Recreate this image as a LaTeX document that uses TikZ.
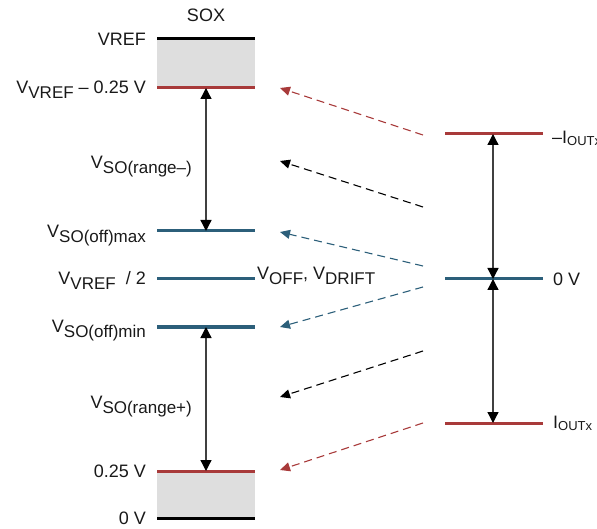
\documentclass[tikz,border=0pt]{standalone}
\usepackage{fontspec}
\setmainfont{Liberation Sans}
\usetikzlibrary{arrows.meta}
\definecolor{lvlred}{RGB}{168,58,58}
\definecolor{lvlblue}{RGB}{44,95,122}
\newcommand{\vsub}[1]{\raisebox{-5pt}{\fontsize{17}{17}\selectfont #1}}
\newcommand{\isub}[1]{\raisebox{-2pt}{\fontsize{13}{13}\selectfont #1}}
\tikzset{
  lvl/.style={line width=3pt},
  span/.style={line width=1.3pt, draw=black!75,
    {Triangle[length=11pt,width=11pt,black]}-{Triangle[length=11pt,width=11pt,black]}},
  hint/.style={line width=1.1pt, dash pattern=on 8pt off 5pt,
    -{Triangle[length=10pt,width=9pt]}},
  lbl/.style={font=\fontsize{18}{21}\selectfont, inner sep=0pt, text=black!90}
}
\begin{document}
\begin{tikzpicture}[x=1pt,y=-1pt]
\useasboundingbox (0,0) rectangle (597,529);

\foreach \n/\y in {vref/39, top/88, omax/231, mid/279, omin/327, bot/471, zero/518} {
  \coordinate (\n-a) at (157,\y);
  \coordinate (\n-b) at (255,\y);
  \coordinate (\n) at (206,\y);
}
\foreach \n/\y in {neg/134, nul/279, pos/423} {
  \coordinate (\n-a) at (445,\y);
  \coordinate (\n-b) at (543,\y);
  \coordinate (\n) at (493,\y);
}

\fill [black!13] (vref-a) rectangle (top-b);
\fill [black!13] (bot-a) rectangle (zero-b);

\draw [lvl] (vref-a) -- (vref-b);
\draw [lvl,lvlred] (top-a) -- (top-b);
\draw [lvl,lvlblue] (omax-a) -- (omax-b);
\draw [lvl,lvlblue] (mid-a) -- (mid-b);
\draw [lvl,lvlblue] (omin-a) -- (omin-b);
\draw [lvl,lvlred] (bot-a) -- (bot-b);
\draw [lvl] (zero-a) -- (zero-b);
\draw [lvl,lvlred] (neg-a) -- (neg-b);
\draw [lvl,lvlblue] (nul-a) -- (nul-b);
\draw [lvl,lvlred] (pos-a) -- (pos-b);

\draw [span] (top) -- (omax);
\draw [span] (omin) -- (bot);
\draw [span] (neg) -- (nul);
\draw [span] (nul) -- (pos);

\coordinate (s1) at (423,135); \coordinate (t1) at (280,88);
\coordinate (s2) at (423,207); \coordinate (t2) at (280,161);
\coordinate (s3) at (423,266); \coordinate (t3) at (280,232);
\coordinate (s4) at (423,287); \coordinate (t4) at (280,327);
\coordinate (s5) at (423,351); \coordinate (t5) at (280,397);
\coordinate (s6) at (423,423); \coordinate (t6) at (280,470);
\draw [hint,lvlred] (s1) -- (t1);
\draw [hint,black] (s2) -- (t2);
\draw [hint,lvlblue] (s3) -- (t3);
\draw [hint,lvlblue] (s4) -- (t4);
\draw [hint,black] (s5) -- (t5);
\draw [hint,lvlred] (s6) -- (t6);

\node [lbl] (sox) at (206,15) {SOX};
\node [lbl,anchor=east] (l-vref) at (146,39) {VREF};
\node [lbl,anchor=east] (l-top) at (146,90) {V\vsub{VREF} -- 0.25 V};
\node [lbl,anchor=east] (l-rneg) at (192,167) {V\vsub{SO(range--)}};
\node [lbl,anchor=east] (l-omax) at (146,236) {V\vsub{SO(off)max}};
\node [lbl,anchor=east] (l-mid) at (146,280) {V\vsub{VREF}\ \ / 2};
\node [lbl,anchor=east] (l-omin) at (146,331) {V\vsub{SO(off)min}};
\node [lbl,anchor=east] (l-rpos) at (192,407) {V\vsub{SO(range+)}};
\node [lbl,anchor=east] (l-bot) at (146,471) {0.25 V};
\node [lbl,anchor=east] (l-zero) at (146,518) {0 V};
\node [lbl,anchor=west] (l-drift) at (257,276) {V\vsub{OFF}, V\vsub{DRIFT}};
\node [lbl,anchor=west] (l-neg) at (552,138) {--I\isub{OUTx}};
\node [lbl,anchor=west] (l-nul) at (553,279) {0 V};
\node [lbl,anchor=west] (l-pos) at (553,423) {I\isub{OUTx}};
\end{tikzpicture}
\end{document}
